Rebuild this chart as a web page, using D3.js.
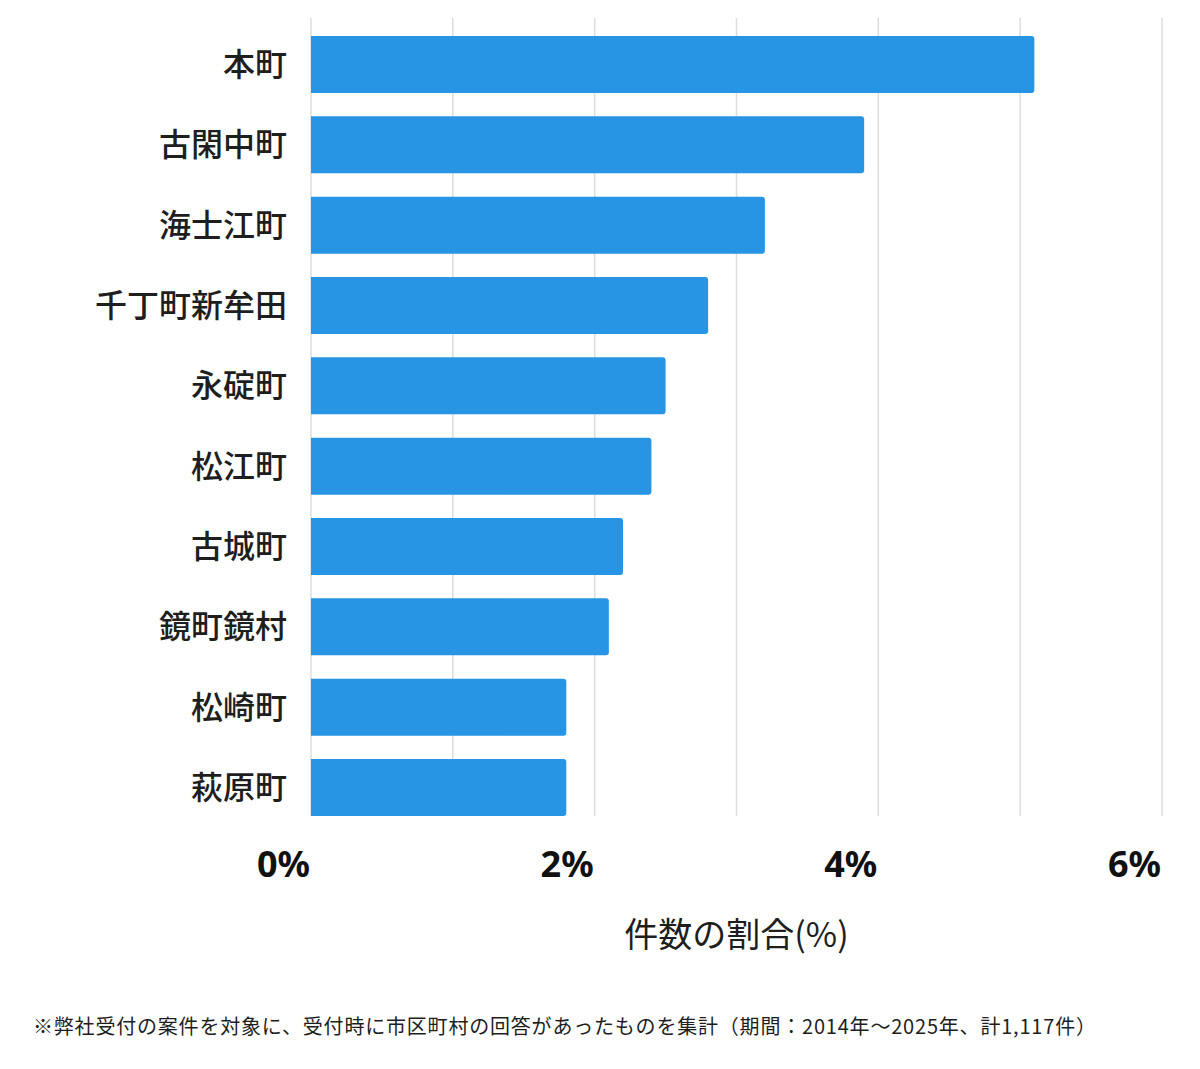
<!DOCTYPE html>
<html>
<head>
<meta charset="utf-8">
<script src="https://cdn.jsdelivr.net/npm/d3@7"></script>
<style>
  body { margin: 0; background: #fff; }
  svg text { font-family: "Noto Sans CJK JP", "Noto Sans", sans-serif; }
</style>
</head>
<body>
<svg id="chart" width="1200" height="1069"></svg>
<script>
//Town names (top to bottom) and their share of cases in percent
var towns = ["本町", "古閑中町", "海士江町", "千丁町新牟田", "永碇町", "松江町", "古城町", "鏡町鏡村", "松崎町", "萩原町"];
var shares = [5.1, 3.9, 3.2, 2.8, 2.5, 2.4, 2.2, 2.1, 1.8, 1.8];
var gridTicks = [0, 1, 2, 3, 4, 5, 6];
var labelTicks = [0, 2, 4, 6];
var axisTitle = "件数の割合(%)";
var footnote = "※弊社受付の案件を対象に、受付時に市区町村の回答があったものを集計（期間：2014年～2025年、計1,117件）";

var svg = d3.select("svg#chart");

var x = d3.scaleLinear()
  .domain([0, 6])
  .range([311, 1162]);

var y = d3.scaleBand()
  .domain(towns)
  .range([36, 816])
  .paddingInner(0.29)
  .paddingOuter(0);

//Vertical grid lines
svg.append("g")
  .selectAll("line")
  .data(gridTicks)
  .enter().append("line")
    .attr("x1", function (d) { return x(d); })
    .attr("x2", function (d) { return x(d); })
    .attr("y1", 18)
    .attr("y2", 816)
    .style("stroke", "#dcdcdc")
    .style("stroke-width", 1.5);

//Bars, right corners slightly rounded
var bars = svg.append("g");
towns.forEach(function (t, i) {
  var x0 = x(0), x1 = x(shares[i]), y0 = y(t), h = y.bandwidth(), r = 3;
  bars.append("path")
    .attr("d", "M" + x0 + "," + y0 +
      "H" + (x1 - r) + "Q" + x1 + "," + y0 + " " + x1 + "," + (y0 + r) +
      "V" + (y0 + h - r) + "Q" + x1 + "," + (y0 + h) + " " + (x1 - r) + "," + (y0 + h) +
      "H" + x0 + "Z")
    .style("fill", "#2794e4");
});

//Category labels
svg.append("g")
  .selectAll("text")
  .data(towns)
  .enter().append("text")
    .attr("x", 287)
    .attr("y", function (d) { return y(d) + y.bandwidth() / 2; })
    .attr("dy", "0.36em")
    .attr("text-anchor", "end")
    .style("font-size", "32px")
    .style("font-weight", "500")
    .style("fill", "#1e1e1e")
    .text(function (d) { return d; });

//Tick labels under the plot
svg.append("g")
  .selectAll("text")
  .data(labelTicks)
  .enter().append("text")
    .attr("x", function (d) { return x(d) - 1; })
    .attr("y", 877)
    .attr("text-anchor", "end")
    .style("font-family", "'Noto Sans', sans-serif")
    .style("font-size", "36px")
    .style("font-weight", "bold")
    .style("fill", "#111")
    .text(function (d) { return d + "%"; });

//Axis title
svg.append("text")
  .attr("x", (x(0) + x(6)) / 2)
  .attr("y", 947)
  .attr("text-anchor", "middle")
  .style("font-size", "34px")
  .style("fill", "#1e1e1e")
  .text(axisTitle);

//Footnote
svg.append("text")
  .attr("x", 33)
  .attr("y", 1034)
  .style("font-size", "20px")
  .style("letter-spacing", "0.8px")
  .style("fill", "#1e1e1e")
  .text(footnote);
</script>
</body>
</html>
